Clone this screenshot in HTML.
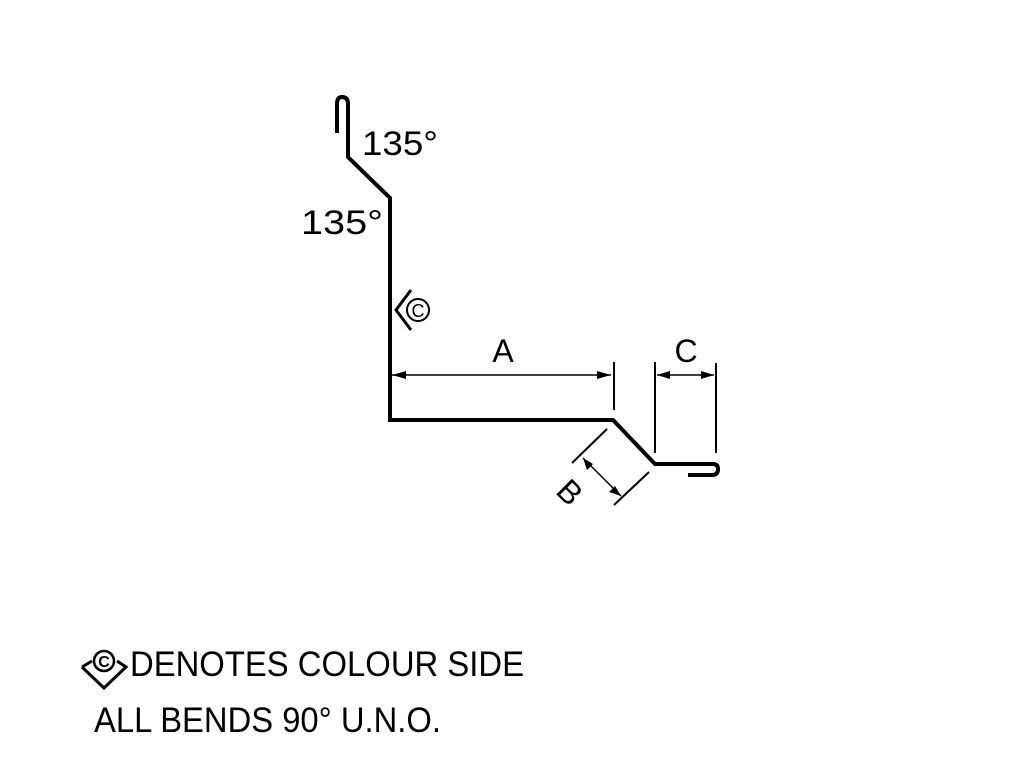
<!DOCTYPE html>
<html><head><style>html,body{margin:0;padding:0;background:#fff}svg{display:block}</style></head>
<body>
<svg width="1024" height="768" viewBox="0 0 1024 768" xmlns="http://www.w3.org/2000/svg" font-family="Liberation Sans, sans-serif">
<rect width="1024" height="768" fill="#fff"/>
<path d="M337,133 L337,104 Q337,97 342,97 Q348,97 348,104 L348,157 L390,198 L390,420 L613,420 L655,464 L713,464 Q718,464 718,469 Q718,475 712,475 L688,475" fill="none" stroke="#000" stroke-width="4" stroke-linejoin="miter"/>
<text x="362" y="155" font-size="34" textLength="76" lengthAdjust="spacingAndGlyphs">135°</text>
<text x="301" y="234" font-size="34" textLength="82" lengthAdjust="spacingAndGlyphs">135°</text>
<!-- colour side symbol -->
<circle cx="418" cy="310" r="11" fill="none" stroke="#000" stroke-width="2"/>
<text x="418" y="317" font-size="18" text-anchor="middle">C</text>
<path d="M411,290 L396,310 L411,330" fill="none" stroke="#000" stroke-width="3"/>
<!-- A -->
<line x1="392" y1="375" x2="611" y2="375" stroke="#000" stroke-width="1.5"/>
<path d="M392,375 l14,-4 l0,8z M611,375 l-14,-4 l0,8z" fill="#000"/>
<line x1="614" y1="362" x2="614" y2="410" stroke="#000" stroke-width="2"/>
<text x="503" y="362" font-size="32" text-anchor="middle">A</text>
<!-- C -->
<line x1="655" y1="362" x2="655" y2="453" stroke="#000" stroke-width="2"/>
<line x1="716" y1="363" x2="716" y2="453" stroke="#000" stroke-width="2"/>
<line x1="657" y1="375" x2="714" y2="375" stroke="#000" stroke-width="1.5"/>
<path d="M657,375 l13,-4 l0,8z M714,375 l-13,-4 l0,8z" fill="#000"/>
<text x="686" y="362" font-size="32" text-anchor="middle">C</text>
<!-- B -->
<line x1="572" y1="463" x2="607" y2="429" stroke="#000" stroke-width="2"/>
<line x1="614" y1="505" x2="649" y2="472" stroke="#000" stroke-width="2"/>
<line x1="583" y1="458" x2="621" y2="496" stroke="#000" stroke-width="1.5"/>
<path d="M583,458 l4,12 l6,-6z M621,496 l-12,-4 l6,-6z" fill="#000"/>
<text x="0" y="0" font-size="32" text-anchor="middle" transform="translate(562,500) rotate(45)">B</text>
<!-- legend -->
<circle cx="104" cy="661" r="10" fill="none" stroke="#000" stroke-width="2.5"/>
<text x="104" y="667" font-size="16" text-anchor="middle" font-weight="bold">C</text>
<path d="M82,667 L92,661 M117,661 L126,667 L104,688 L82,667" fill="none" stroke="#000" stroke-width="3"/>
<text x="130" y="676" font-size="35" textLength="394" lengthAdjust="spacingAndGlyphs">DENOTES COLOUR SIDE</text>
<text x="94" y="732" font-size="35" textLength="347" lengthAdjust="spacingAndGlyphs">ALL BENDS 90° U.N.O.</text>
</svg>
</body></html>
